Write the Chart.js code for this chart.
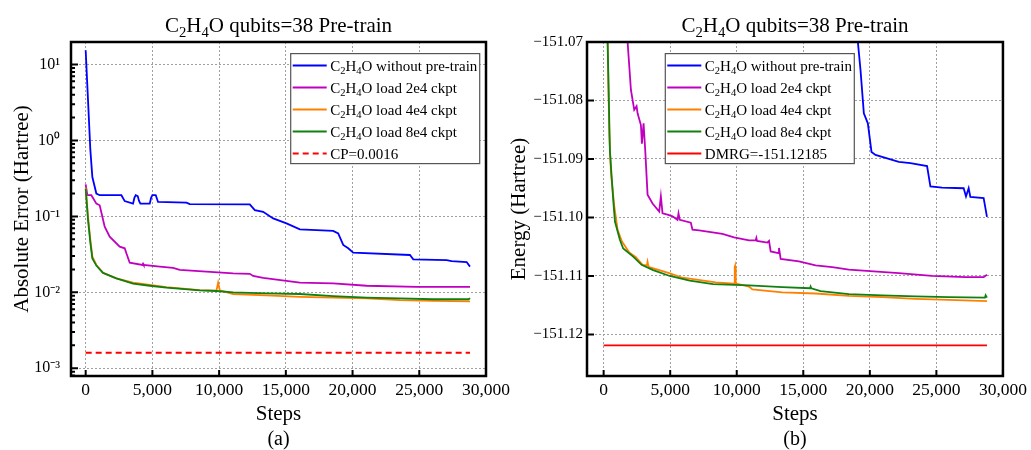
<!DOCTYPE html>
<html>
<head>
<meta charset="utf-8">
<script src="https://cdn.jsdelivr.net/npm/chart.js@4.4.1/dist/chart.umd.min.js"></script>
<style>
  body { margin: 0; background: #fff; }
  #wrap { position: relative; width: 1031px; height: 450px; }
  #chartA { position: absolute; left: 0; top: 0; }
  #chartB { position: absolute; left: 510px; top: 0; }
</style>
</head>
<body>
<div id="wrap">
  <canvas id="chartA" width="515" height="450"></canvas>
  <canvas id="chartB" width="521" height="450"></canvas>
</div>
<script>
// ---- data ----
const chartTitle = "C₂H₄O qubits=38 Pre-train";
const seriesLabels = ["C₂H₄O without pre-train", "C₂H₄O load 2e4 ckpt", "C₂H₄O load 4e4 ckpt", "C₂H₄O load 8e4 ckpt"];
const cpLabel = "CP=0.0016";
const dmrgLabel = "DMRG=-151.12185";
const xTicks = [0, 5000, 10000, 15000, 20000, 25000, 30000];
const errTicks = [0.001, 0.01, 0.1, 1, 10];
const energyTicks = [-151.12, -151.11, -151.10, -151.09, -151.08, -151.07];

// (a) absolute error
const stepsNoPreA = [0, 175, 350, 500, 800, 1050, 2675, 2925, 3550, 3650, 3750, 3900, 4000, 4100, 4800, 4900, 5000, 5250, 5425, 7550, 7800, 12300, 12675, 13300, 14050, 15050, 16050, 18550, 18925, 19300, 19675, 20050, 24300, 24550, 27050, 27425, 28550, 28800];
const errNoPre = [15.4, 3.4, 0.75, 0.33, 0.20, 0.19, 0.19, 0.159, 0.147, 0.175, 0.19, 0.185, 0.16, 0.147, 0.147, 0.175, 0.19, 0.19, 0.155, 0.152, 0.145, 0.144, 0.121, 0.115, 0.094, 0.081, 0.0675, 0.0644, 0.0597, 0.042, 0.038, 0.0333, 0.031, 0.0272, 0.0266, 0.0258, 0.025, 0.0218];

const steps2e4A = [0, 125, 425, 800, 1050, 1425, 1800, 2550, 2925, 3050, 3300, 4250, 4300, 4350, 5550, 6550, 7050, 11050, 12300, 12550, 13300, 16050, 18550, 21050, 24800, 28800];
const err2e4 = [0.264, 0.19, 0.19, 0.147, 0.14, 0.073, 0.054, 0.040, 0.038, 0.0326, 0.0245, 0.0229, 0.0238, 0.0229, 0.0218, 0.021, 0.0197, 0.0178, 0.0175, 0.0164, 0.0155, 0.0134, 0.0131, 0.0122, 0.0118, 0.0118];

const steps4e4A = [0, 175, 350, 500, 800, 1300, 2300, 3550, 4800, 6050, 8550, 9800, 9925, 10050, 11050, 13550, 16050, 18550, 21050, 23550, 26050, 28800];
const err4e4 = [0.24, 0.099, 0.049, 0.0295, 0.0229, 0.0181, 0.0153, 0.0134, 0.0125, 0.0117, 0.0107, 0.0105, 0.0134, 0.0106, 0.0095, 0.0091, 0.0087, 0.0085, 0.0083, 0.0079, 0.0077, 0.0076];

const steps8e4A = [0, 175, 350, 500, 800, 1300, 2300, 3550, 4800, 6050, 8550, 9800, 11050, 13550, 16050, 18550, 21050, 23550, 26050, 28700, 28800];
const err8e4 = [0.23, 0.09, 0.045, 0.028, 0.0225, 0.018, 0.0153, 0.0130, 0.0122, 0.0115, 0.0106, 0.0104, 0.0100, 0.0097, 0.0095, 0.0089, 0.0085, 0.0083, 0.0081, 0.0081, 0.0084];

const stepsRef = [0, 28800];
const errCP = [0.0016, 0.0016];

// (b) energy
const stepsNoPreB = [18000, 18700, 19100, 19300, 19550, 19850, 20125, 20425, 22175, 23050, 24300, 24550, 25425, 27050, 27225, 27425, 27550, 28550, 28800];
const eNoPre = [-151.057, -151.064, -151.07, -151.0748, -151.0822, -151.0839, -151.0888, -151.0893, -151.0905, -151.0907, -151.0912, -151.0947, -151.0949, -151.095, -151.0964, -151.095, -151.0965, -151.0967, -151.0999];

const steps2e4B = [1300, 1800, 2050, 2300, 2475, 2550, 2800, 2875, 3000, 3125, 3300, 3675, 4175, 4300, 4425, 4800, 5175, 5550, 5625, 5725, 6550, 6675, 7175, 8925, 9800, 10925, 11425, 11475, 11525, 12300, 12425, 12550, 13125, 13175, 13300, 14675, 15925, 17175, 18425, 20300, 22175, 24675, 27175, 28550, 28800];
const e2e4 = [-151.05, -151.07, -151.0782, -151.0816, -151.081, -151.0822, -151.0842, -151.0874, -151.0839, -151.0885, -151.0961, -151.0976, -151.099, -151.0964, -151.0993, -151.0995, -151.0998, -151.1004, -151.0993, -151.1004, -151.1009, -151.1021, -151.1022, -151.1028, -151.1034, -151.1039, -151.1039, -151.1035, -151.104, -151.1043, -151.104, -151.1058, -151.1061, -151.1052, -151.1071, -151.1075, -151.1082, -151.1085, -151.1089, -151.1092, -151.1095, -151.11, -151.1102, -151.1102, -151.1098];

const steps4e4B = [0, 150, 300, 425, 550, 800, 1050, 1375, 1925, 2425, 2925, 3250, 3300, 3350, 3425, 4925, 5925, 8425, 9800, 9850, 9875, 9925, 9975, 10925, 11175, 13425, 15925, 18425, 20925, 23425, 25925, 28800];
const e4e4 = [-150.88, -151.02, -151.07, -151.0856, -151.0924, -151.0981, -151.1021, -151.1041, -151.106, -151.1068, -151.1081, -151.1082, -151.1076, -151.1082, -151.1085, -151.1095, -151.1103, -151.1111, -151.1113, -151.1085, -151.1083, -151.111, -151.1113, -151.1118, -151.1123, -151.1128, -151.113, -151.1134, -151.1136, -151.1139, -151.1141, -151.1143];

const steps8e4B = [0, 200, 300, 470, 720, 850, 1220, 1470, 2220, 2850, 3720, 4970, 6470, 8220, 10925, 13425, 15500, 15550, 15600, 16300, 18425, 20925, 23425, 25925, 28650, 28700, 28800];
const e8e4 = [-150.89, -151.03, -151.07, -151.0886, -151.097, -151.1007, -151.1038, -151.1053, -151.1067, -151.1081, -151.109, -151.11, -151.1108, -151.1114, -151.1116, -151.1119, -151.1121, -151.1118, -151.1121, -151.1126, -151.1131, -151.1133, -151.1135, -151.1136, -151.1137, -151.1133, -151.1137];

const eDMRG = [-151.12185, -151.12185];

const colors = ["#0000ff", "#c000c0", "#ff8000", "#108010", "#ff0000"];

// ---- helpers ----
const SERIF = '"Liberation Serif", "Times New Roman", serif';
const SUBS = "₀₁₂₃₄₅₆₇₈₉";
const SUPS = { "-": "⁻", "0": "⁰", "1": "¹", "2": "²", "3": "³", "4": "⁴" };

function toPoints(xs, ys) {
  return xs.map((x, i) => ({ x: x, y: ys[i] }));
}

// draws text where unicode subscript digits become smaller, lowered digits
function drawRich(ctx, str, x, y, size, align) {
  const parts = [];
  for (const ch of str) {
    const i = SUBS.indexOf(ch);
    const sub = i >= 0;
    const c = sub ? String(i) : ch;
    const last = parts[parts.length - 1];
    if (last && last.sub === sub) last.t += c;
    else parts.push({ t: c, sub: sub });
  }
  let total = 0;
  parts.forEach(p => {
    ctx.font = (p.sub ? size * 0.7 : size) + "px " + SERIF;
    p.w = ctx.measureText(p.t).width;
    total += p.w;
  });
  let cx = align === "center" ? x - total / 2 : x;
  ctx.textAlign = "left";
  ctx.textBaseline = "alphabetic";
  ctx.fillStyle = "#000";
  parts.forEach(p => {
    ctx.font = (p.sub ? size * 0.7 : size) + "px " + SERIF;
    ctx.fillText(p.t, cx, p.sub ? y + size * 0.22 : y);
    cx += p.w;
  });
}

function makeDataset(label, xs, ys, color, order, dash) {
  return {
    label: label,
    data: toPoints(xs, ys),
    borderColor: color,
    backgroundColor: color,
    borderWidth: 1.8,
    borderDash: dash || [],
    pointRadius: 0,
    tension: 0,
    fill: false,
    order: order,
  };
}

const framePlugin = {
  id: "frame",
  afterDatasetsDraw(chart, args, opts) {
    const { ctx, chartArea: a, scales } = chart;
    const x = scales.x, y = scales.y;
    ctx.save();

    // legend box inside the plot
    const bx = opts.legendX, by = a.top + 11.6, bw = 189, rowH = 22;
    const dsets = chart.data.datasets;
    ctx.fillStyle = "#fff";
    ctx.fillRect(bx, by, bw, rowH * dsets.length);
    ctx.strokeStyle = "#555";
    ctx.lineWidth = 1.2;
    ctx.setLineDash([]);
    ctx.strokeRect(bx, by, bw, rowH * dsets.length);
    dsets.forEach((d, i) => {
      const cy = by + 12 + rowH * i;
      ctx.strokeStyle = d.borderColor;
      ctx.lineWidth = 2;
      ctx.setLineDash(d.borderDash);
      ctx.beginPath();
      ctx.moveTo(bx + 2, cy);
      ctx.lineTo(bx + 36, cy);
      ctx.stroke();
      ctx.setLineDash([]);
      drawRich(ctx, d.label, bx + 39.5, cy + 5, 15, "left");
    });

    // inward ticks
    ctx.strokeStyle = "#000";
    ctx.lineWidth = 2;
    ctx.beginPath();
    xTicks.forEach(v => {
      const px = x.getPixelForValue(v);
      ctx.moveTo(px, a.bottom);
      ctx.lineTo(px, a.bottom - 6);
    });
    y.ticks.forEach(t => {
      const py = y.getPixelForValue(t.value);
      ctx.moveTo(a.left, py);
      ctx.lineTo(a.left + 7, py);
    });
    if (y.type === "logarithmic") {
      for (let k = -4; k <= 1; k++) {
        for (let m = 2; m <= 9; m++) {
          const v = m * Math.pow(10, k);
          if (v < y.min || v > y.max) continue;
          const py = y.getPixelForValue(v);
          ctx.moveTo(a.left, py);
          ctx.lineTo(a.left + 4, py);
        }
      }
    }
    ctx.stroke();

    // frame
    ctx.lineWidth = 2.5;
    ctx.strokeRect(a.left, a.top, a.right - a.left, a.bottom - a.top);
    ctx.restore();
  },
  afterDraw(chart, args, opts) {
    const { ctx, chartArea: a } = chart;
    ctx.save();
    const cx = (a.left + a.right) / 2;
    drawRich(ctx, chartTitle, cx, 32, 21, "center");
    drawRich(ctx, opts.caption, cx, 445, 20, "center");
    ctx.restore();
  }
};

function xScale(min) {
  return {
    type: "linear",
    min: min,
    max: 30000,
    afterBuildTicks: s => { s.ticks = xTicks.map(v => ({ value: v })); },
    afterFit: s => { s.height = 74; },
    grid: { color: "#a0a0a0", lineWidth: 1, drawTicks: false },
    border: { display: false, dash: [2, 2] },
    ticks: {
      padding: 4,
      color: "#000",
      font: { family: SERIF, size: 17.5 },
      maxRotation: 0,
      callback: v => v.toLocaleString("en-US"),
    },
    title: {
      display: true,
      text: "Steps",
      color: "#000",
      font: { family: SERIF, size: 21, lineHeight: 1 },
      padding: { top: 0, bottom: 25.5 },
    },
  };
}

// ---- chart (a) ----
new Chart(document.getElementById("chartA"), {
  type: "line",
  data: {
    datasets: [
      makeDataset(seriesLabels[0], stepsNoPreA, errNoPre, colors[0], 3),
      makeDataset(seriesLabels[1], steps2e4A, err2e4, colors[1], 2),
      makeDataset(seriesLabels[2], steps4e4A, err4e4, colors[2], 1),
      makeDataset(seriesLabels[3], steps8e4A, err8e4, colors[3], 0),
      makeDataset(cpLabel, stepsRef, errCP, colors[4], 4, [6, 4]),
    ],
  },
  options: {
    responsive: false,
    animation: false,
    layout: { padding: { top: 42, right: 29, left: 0, bottom: 0 } },
    plugins: {
      legend: { display: false },
      tooltip: { enabled: false },
      frame: { legendX: 290.7, caption: "(a)" },
    },
    scales: {
      x: xScale(-1100),
      y: {
        type: "logarithmic",
        min: 0.00079,
        max: 19.8,
        afterBuildTicks: s => { s.ticks = errTicks.map(v => ({ value: v })); },
        afterFit: s => { s.width = 71; },
        grid: { color: "#a0a0a0", lineWidth: 1, drawTicks: false },
        border: { display: false, dash: [2, 2] },
        ticks: {
          padding: 11,
          color: "#000",
          font: { family: SERIF, size: 16 },
          callback: v => {
            const e = String(Math.round(Math.log10(v)));
            return "10" + e.split("").map(c => SUPS[c]).join("");
          },
        },
        title: {
          display: true,
          text: "Absolute Error (Hartree)",
          color: "#000",
          font: { family: SERIF, size: 21, lineHeight: 1 },
          padding: { top: 11.5, bottom: 0 },
        },
      },
    },
  },
  plugins: [framePlugin],
});

// ---- chart (b) ----
new Chart(document.getElementById("chartB"), {
  type: "line",
  data: {
    datasets: [
      makeDataset(seriesLabels[0], stepsNoPreB, eNoPre, colors[0], 3),
      makeDataset(seriesLabels[1], steps2e4B, e2e4, colors[1], 2),
      makeDataset(seriesLabels[2], steps4e4B, e4e4, colors[2], 1),
      makeDataset(seriesLabels[3], steps8e4B, e8e4, colors[3], 0),
      makeDataset(dmrgLabel, stepsRef, eDMRG, colors[4], 4),
    ],
  },
  options: {
    responsive: false,
    animation: false,
    layout: { padding: { top: 42, right: 28, left: 0, bottom: 0 } },
    plugins: {
      legend: { display: false },
      tooltip: { enabled: false },
      frame: { legendX: 155.3, caption: "(b)" },
    },
    scales: {
      x: xScale(-1250),
      y: {
        type: "linear",
        min: -151.1271,
        max: -151.07,
        afterBuildTicks: s => { s.ticks = energyTicks.map(v => ({ value: v })); },
        afterFit: s => { s.width = 77; },
        grid: { color: "#a0a0a0", lineWidth: 1, drawTicks: false },
        border: { display: false, dash: [2, 2] },
        ticks: {
          padding: 4,
          color: "#000",
          font: { family: SERIF, size: 15 },
          callback: v => "−" + Math.abs(v).toFixed(2),
        },
        title: {
          display: true,
          text: "Energy (Hartree)",
          color: "#000",
          font: { family: SERIF, size: 21, lineHeight: 1 },
          padding: { top: -1.5, bottom: 0 },
        },
      },
    },
  },
  plugins: [framePlugin],
});
</script>
</body>
</html>
